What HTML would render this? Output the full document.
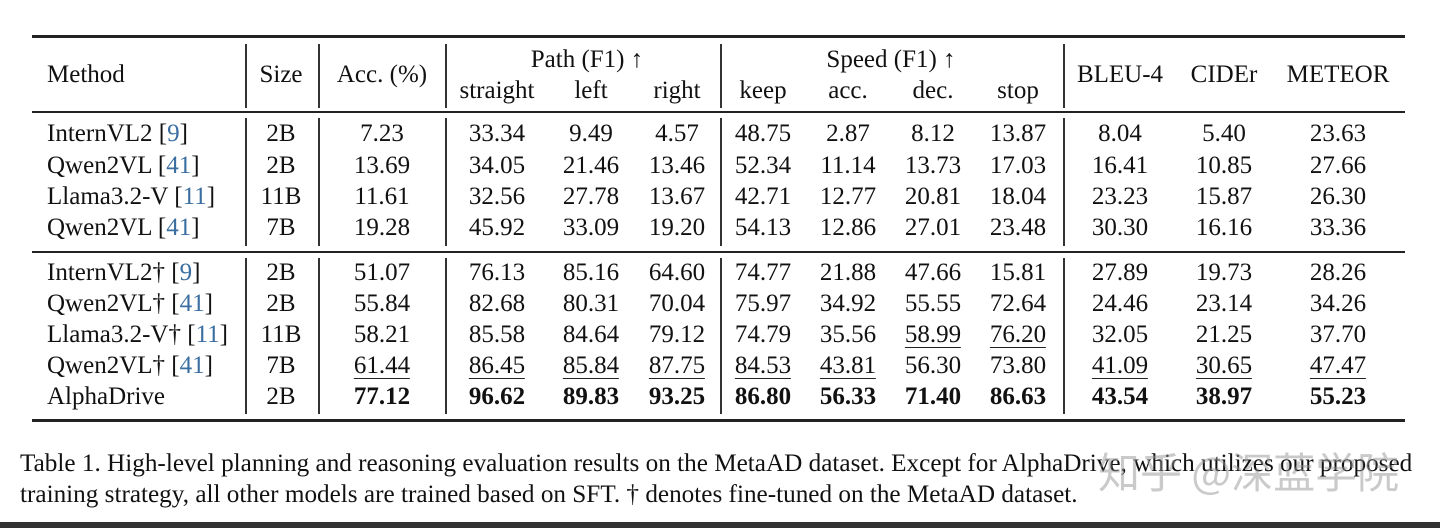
<!DOCTYPE html>
<html><head><meta charset="utf-8"><style>
body{margin:0;width:1440px;height:528px;background:#fff;position:relative;overflow:hidden;font-family:"Liberation Serif",serif;color:#111}
.c{position:absolute;font-size:25px;line-height:28px;white-space:nowrap;transform:translateX(-50%)}
.l{position:absolute;font-size:25px;line-height:28px;white-space:nowrap}
.u{border-bottom:1.5px solid #222;line-height:24px;display:inline-block}
.b{font-weight:bold}
.ref{color:#3a6ea0}
.h{position:absolute;left:32px;width:1373px;background:#222}
.v{position:absolute;width:1.5px;background:#333}
.cap{position:absolute;left:20px;font-size:25.2px;line-height:31px;white-space:nowrap}
</style></head><body>
<div class="h" style="top:35px;height:2.5px"></div>
<div class="h" style="top:111px;height:2px"></div>
<div class="h" style="top:251px;height:2px"></div>
<div class="h" style="top:419px;height:2.5px"></div>
<div id="tbl"></div>
<div class="l" style="left:47px;top:61px">Method</div>
<div class="c" style="left:281px;top:61px">Size</div>
<div class="c" style="left:382px;top:61px">Acc. (%)</div>
<div class="c" style="left:587px;top:46px">Path (F1) ↑</div>
<div class="c" style="left:891px;top:46px">Speed (F1) ↑</div>
<div class="c" style="left:497px;top:77px">straight</div>
<div class="c" style="left:591px;top:77px">left</div>
<div class="c" style="left:677px;top:77px">right</div>
<div class="c" style="left:763px;top:77px">keep</div>
<div class="c" style="left:848px;top:77px">acc.</div>
<div class="c" style="left:933px;top:77px">dec.</div>
<div class="c" style="left:1018px;top:77px">stop</div>
<div class="c" style="left:1120px;top:61px">BLEU-4</div>
<div class="c" style="left:1224px;top:61px">CIDEr</div>
<div class="c" style="left:1338px;top:61px">METEOR</div>
<div class="cap" style="top:448px">Table 1. High-level planning and reasoning evaluation results on the MetaAD dataset. Except for AlphaDrive, which utilizes our proposed</div>
<div class="cap" style="top:479px">training strategy, all other models are trained based on SFT. † denotes fine-tuned on the MetaAD dataset.</div>
<div style="position:absolute;left:1098px;top:446px;font-family:'Noto Sans CJK SC',sans-serif;font-size:42px;line-height:50px;color:rgba(150,150,150,0.5);white-space:nowrap">知乎 @深蓝学院</div>
<div style="position:absolute;left:0;top:522px;width:1440px;height:6px;background:#333"></div>
<script>
const methods=["InternVL2 [9]","Qwen2VL [41]","Llama3.2-V [11]","Qwen2VL [41]","InternVL2† [9]","Qwen2VL† [41]","Llama3.2-V† [11]","Qwen2VL† [41]","AlphaDrive"];
const sizes=["2B","2B","11B","7B","2B","2B","11B","7B","2B"];
const values=[
["7.23","33.34","9.49","4.57","48.75","2.87","8.12","13.87","8.04","5.40","23.63"],
["13.69","34.05","21.46","13.46","52.34","11.14","13.73","17.03","16.41","10.85","27.66"],
["11.61","32.56","27.78","13.67","42.71","12.77","20.81","18.04","23.23","15.87","26.30"],
["19.28","45.92","33.09","19.20","54.13","12.86","27.01","23.48","30.30","16.16","33.36"],
["51.07","76.13","85.16","64.60","74.77","21.88","47.66","15.81","27.89","19.73","28.26"],
["55.84","82.68","80.31","70.04","75.97","34.92","55.55","72.64","24.46","23.14","34.26"],
["58.21","85.58","84.64","79.12","74.79","35.56","58.99","76.20","32.05","21.25","37.70"],
["61.44","86.45","85.84","87.75","84.53","43.81","56.30","73.80","41.09","30.65","47.47"],
["77.12","96.62","89.83","93.25","86.80","56.33","71.40","86.63","43.54","38.97","55.23"]];
const underlined=[[6,6],[6,7],[7,0],[7,1],[7,2],[7,3],[7,4],[7,5],[7,8],[7,9],[7,10]];
const colX=[382,497,591,677,763,848,933,1018,1120,1224,1338];
const rowY=[134,166,197,228,273,304,335,366,397];
const t=document.getElementById('tbl');
function esc(s){return s.replace(/\[(\d+)\]/,'[<span class="ref">$1</span>]');}
for(let r=0;r<methods.length;r++){
 const y=rowY[r]-14;
 let m=document.createElement('div');m.className='l';m.style.left='47px';m.style.top=y+'px';m.innerHTML=esc(methods[r]);
 
 
 t.appendChild(m);
 let s=document.createElement('div');s.className='c';s.style.left='281px';s.style.top=y+'px';s.textContent=sizes[r];
 
 
 t.appendChild(s);
 for(let c=0;c<values[r].length;c++){
  let d=document.createElement('div');d.className='c'+(r===8?' b':'');d.style.left=colX[c]+'px';d.style.top=y+'px';
  const u=underlined.some(p=>p[0]===r&&p[1]===c);
  d.innerHTML=u?'<span class="u">'+values[r][c]+'</span>':values[r][c];
  
  
  t.appendChild(d);
 }
}
const vx=[245,318,445,720,1063];
const segs=[[44,108],[118,246],[258,414]];
for(const x of vx){for(const sg of segs){
 let v=document.createElement('div');v.className='v';v.style.left=x+'px';v.style.top=sg[0]+'px';v.style.height=(sg[1]-sg[0])+'px';
 
 
 t.appendChild(v);
}}
</script>
</body></html>
